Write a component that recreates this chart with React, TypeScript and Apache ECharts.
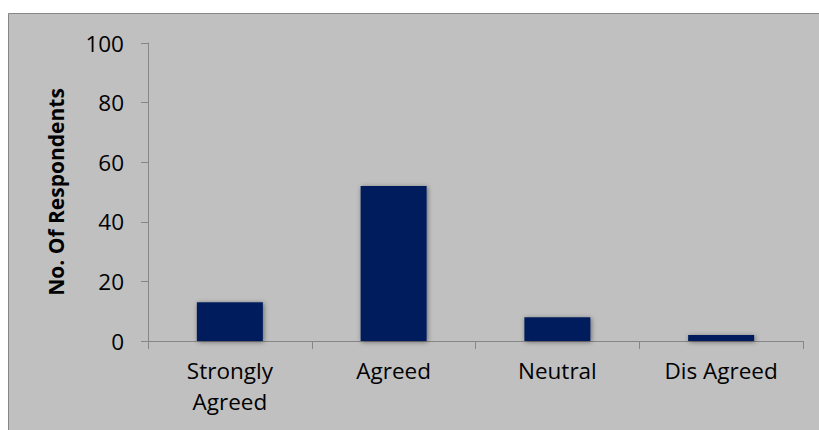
import React, { useEffect, useRef } from "react";
import * as echarts from "echarts";

const categories = ["Strongly\nAgreed", "Agreed", "Neutral", "Dis Agreed"];
const respondents = [13, 52, 8, 2];
const yTicks = { min: 0, max: 100, interval: 20 };

export default function App() {
  const ref = useRef<HTMLDivElement>(null);
  useEffect(() => {
    if (!ref.current) return;
    const chart = echarts.init(ref.current, null, { renderer: "svg" });
    const font = "'Open Sans', 'Liberation Sans', Arial, sans-serif";
    chart.setOption({
      animation: false,
      backgroundColor: "#ffffff",
      textStyle: { fontFamily: font },
      graphic: [
        {
          type: "rect",
          z: -10,
          shape: { x: 8.5, y: 13.5, width: 900, height: 500 },
          style: { fill: "#c0c0c0", stroke: "#868686", lineWidth: 1 },
        },
      ],
      grid: { left: 148, right: 16, top: 43, bottom: 89 },
      xAxis: {
        type: "category",
        data: categories,
        axisLine: { lineStyle: { color: "#868686", width: 1 } },
        axisTick: { show: true, length: 8, lineStyle: { color: "#868686" } },
        axisLabel: {
          color: "#000",
          fontSize: 22.5,
          fontFamily: font,
          lineHeight: 31,
          margin: 14,
          interval: 0,
        },
        splitLine: { show: false },
      },
      yAxis: {
        type: "value",
        min: yTicks.min,
        max: yTicks.max,
        interval: yTicks.interval,
        name: "No. Of Respondents",
        nameLocation: "middle",
        nameRotate: 90,
        nameGap: 82,
        nameTextStyle: { color: "#000", fontSize: 21, fontWeight: "bold", fontFamily: font },
        axisLine: { show: true, lineStyle: { color: "#868686", width: 1 } },
        axisTick: { show: true, length: 7, lineStyle: { color: "#868686" } },
        axisLabel: { color: "#000", fontSize: 22.5, fontFamily: font, margin: 24 },
        splitLine: { show: false },
      },
      series: [
        {
          type: "bar",
          data: respondents,
          barWidth: 66,
          itemStyle: {
            color: "#001f5c",
            shadowColor: "rgba(0,0,0,0.45)",
            shadowBlur: 5,
            shadowOffsetX: 1,
            shadowOffsetY: 1,
          },
        },
      ],
    });
    return () => chart.dispose();
  }, []);
  return (
    <div style={{ position: "fixed", left: 0, top: 0, width: 819, height: 430 }}>
      <div ref={ref} style={{ width: 819, height: 430 }} />
    </div>
  );
}
